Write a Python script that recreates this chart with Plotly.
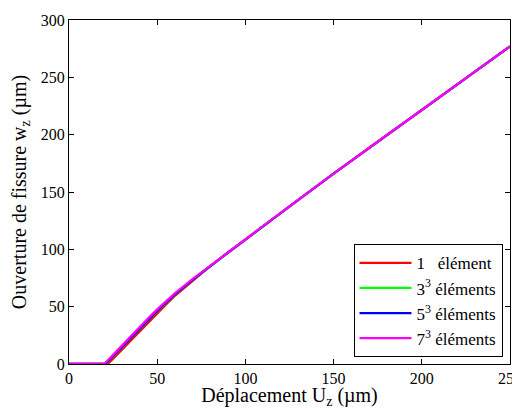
import plotly.graph_objects as go

# Déplacement U_z (µm) and crack opening w_z (µm) for each mesh
u_1 = [0, 21.8, 25, 30, 35, 40, 45, 50, 55, 60, 70, 80, 90, 100, 108, 125, 150, 175, 200, 225, 250]
w_1 = [0, 0, 4.6, 12.6, 20.5, 28.6, 36.6, 44.5, 52.0, 59.5, 72.8, 85.3, 97.0, 108.5, 118.0, 137.5, 166.0, 193.8, 221.7, 249.3, 277.0]

u_3 = [0, 20.6, 25, 30, 35, 40, 45, 50, 55, 60, 70, 80, 90, 100, 108, 125, 150, 175, 200, 225, 250]
w_3 = [0, 0, 6.8, 14.8, 22.7, 30.7, 38.5, 46.2, 53.5, 60.5, 73.3, 85.5, 97.0, 108.5, 118.0, 137.5, 166.0, 193.8, 221.7, 249.3, 277.0]

u_5 = [0, 20.5, 25, 30, 35, 40, 45, 50, 55, 60, 70, 80, 90, 100, 108, 125, 150, 175, 200, 225, 250]
w_5 = [0, 0, 7.0, 15.0, 22.9, 30.9, 38.7, 46.4, 53.7, 60.7, 73.4, 85.5, 97.0, 108.5, 118.0, 137.5, 166.0, 193.8, 221.7, 249.3, 277.0]

u_7 = [0, 20.0, 25, 30, 35, 40, 45, 50, 55, 60, 70, 80, 90, 100, 108, 125, 150, 175, 200, 225, 250]
w_7 = [0, 0, 8.0, 16.2, 24.2, 32.2, 40.0, 47.6, 54.8, 61.6, 74.0, 85.8, 97.2, 108.6, 118.0, 137.5, 166.0, 193.8, 221.7, 249.3, 277.0]

names = ["1\u00a0\u00a0\u00a0élément", "3<sup>3</sup>\u00a0éléments", "5<sup>3</sup>\u00a0éléments", "7<sup>3</sup>\u00a0éléments"]
colors = ["#ff0000", "#00ff00", "#0000ff", "#ff00ff"]
series = [(u_1, w_1), (u_3, w_3), (u_5, w_5), (u_7, w_7)]

x_ticks = [0, 50, 100, 150, 200, 250]
y_ticks = [0, 50, 100, 150, 200, 250, 300]

FONT = "Liberation Serif"

fig = go.Figure()
for (u, w), n, c in zip(series, names, colors):
    fig.add_trace(go.Scatter(x=u, y=w, mode="lines", name=n,
                             line=dict(color=c, width=2.3)))

def axis_style():
    return dict(showline=True, linecolor="black", linewidth=1, mirror="ticks",
                ticks="inside", ticklen=5, tickcolor="black", showgrid=False,
                zeroline=False, automargin=False, ticklabeloverflow="allow",
                tickfont=dict(family=FONT, size=16, color="black"))

fig.update_layout(
    width=512, height=401,
    margin=dict(l=61, r=10, t=12, b=45),
    paper_bgcolor="white", plot_bgcolor="white",
    font=dict(family=FONT, color="black", size=16),
    xaxis=dict(range=[0, 250], tickvals=x_ticks,
               title=dict(text="Déplacement U<sub>z</sub> (µm)", font=dict(family=FONT, size=20), standoff=2),
               **axis_style()),
    yaxis=dict(range=[0, 300], tickvals=y_ticks,
               title=dict(text="Ouverture de fissure w<sub>z</sub> (µm)", font=dict(family=FONT, size=20), standoff=10),
               **axis_style()),
    legend=dict(x=0.983, y=0.0195, xanchor="right", yanchor="bottom",
                bordercolor="black", borderwidth=1, bgcolor="white",
                font=dict(family=FONT, size=17, color="black"),
                tracegroupgap=0, itemwidth=52),
    showlegend=True,
)

fig.write_html("out.html")
